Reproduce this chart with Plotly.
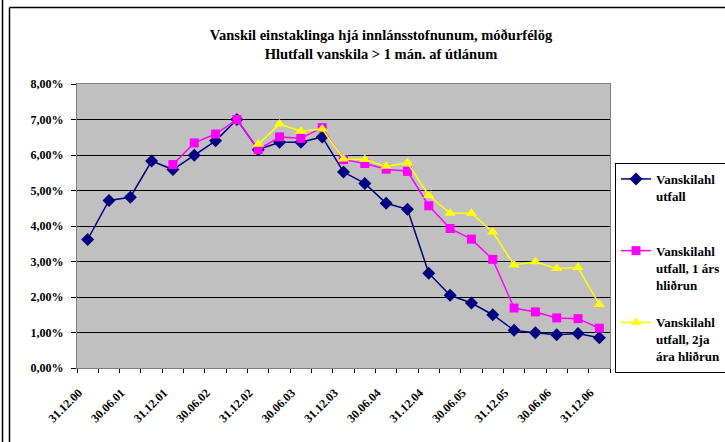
import plotly.graph_objects as go

dates = ["31.12.00", "31.03.01", "30.06.01", "30.09.01", "31.12.01", "31.03.02",
         "30.06.02", "30.09.02", "31.12.02", "31.03.03", "30.06.03", "30.09.03",
         "31.12.03", "31.03.04", "30.06.04", "30.09.04", "31.12.04", "31.03.05",
         "30.06.05", "30.09.05", "31.12.05", "31.03.06", "30.06.06", "30.09.06",
         "31.12.06"]

vanskil = [3.62, 4.72, 4.81, 5.83, 5.59, 5.99, 6.40, 7.00, 6.15, 6.36, 6.36, 6.51,
           5.52, 5.20, 4.64, 4.47, 2.67, 2.05, 1.83, 1.50, 1.06, 0.99, 0.94, 0.97, 0.85]
vanskil_1ar = [None, None, None, None, 5.73, 6.34, 6.59, 7.00, 6.15, 6.51, 6.47, 6.77,
               5.87, 5.76, 5.60, 5.54, 4.57, 3.93, 3.63, 3.06, 1.69, 1.58, 1.41, 1.39, 1.12]
vanskil_2ar = [None, None, None, None, None, None, None, None, 6.30, 6.87, 6.67, 6.73,
               5.89, 5.87, 5.68, 5.78, 4.86, 4.36, 4.36, 3.83, 2.90, 2.99, 2.80, 2.83, 1.79]

names = ["Vanskilahl<br>utfall<br> ", "Vanskilahl<br>utfall, 1 árs<br>hliðrun",
         "Vanskilahl<br>utfall, 2ja<br>ára hliðrun"]

y_ticks = [0, 1, 2, 3, 4, 5, 6, 7, 8]
y_ticktext = ["0,00%", "1,00%", "2,00%", "3,00%", "4,00%", "5,00%", "6,00%", "7,00%", "8,00%"]

xi = list(range(len(dates)))

FONT = "Liberation Serif, Times New Roman, serif"

fig = go.Figure()
fig.add_trace(go.Scatter(x=xi, y=vanskil, name=names[0], legendgroup="a",
                         mode="lines+markers",
                         line=dict(color="#000080", width=1.5),
                         marker=dict(symbol="diamond", size=10, color="#000080")))
fig.add_trace(go.Scatter(x=xi, y=vanskil_1ar, name=names[1], legendgroup="b",
                         mode="lines+markers",
                         line=dict(color="#FF00FF", width=1.5),
                         marker=dict(symbol="square", size=9, color="#FF00FF")))
fig.add_trace(go.Scatter(x=xi, y=vanskil_2ar, name=names[2], legendgroup="c",
                         mode="lines+markers",
                         line=dict(color="#FFFF00", width=1.5),
                         marker=dict(symbol="triangle-up", size=10, color="#FFFF00")))

L, T, R, B = 77, 84, 610, 368
W, H = 725, 442
pw, ph = R - L, B - T

def px(x):
    return (x - L) / pw

def py(y):
    return (B - y) / ph

fig.update_layout(
    width=W, height=H,
    margin=dict(l=L, r=W - R, t=T, b=H - B, pad=0, autoexpand=False),
    paper_bgcolor="white",
    plot_bgcolor="#C0C0C0",
    font=dict(family=FONT, size=12, color="black", weight="bold"),
    title=dict(text="Vanskil einstaklinga hjá innlánsstofnunum, móðurfélög<br>Hlutfall vanskila > 1 mán. af útlánum",
               x=381 / W, xanchor="center", xref="container",
               y=1 - 40 / H, yanchor="top", yref="container",
               font=dict(family=FONT, size=14.5, color="black", weight="bold")),
    showlegend=True,
    legend=dict(x=px(615), xanchor="left", y=py(163), yanchor="top",
                bordercolor="black", borderwidth=1, bgcolor="white",
                font=dict(family=FONT, size=13, color="black", weight="bold"),
                tracegroupgap=18, valign="top", itemwidth=30),
    xaxis=dict(range=[-0.5, len(dates) - 0.5], tickmode="array",
               tickvals=xi[::2], ticktext=dates[::2], tickangle=-45,
               ticks="", showgrid=False, zeroline=False,
               ticklabelstandoff=12, ticklabelshift=-9,
               showline=True, linecolor="#808080", linewidth=1, mirror=True,
               tickfont=dict(family=FONT, size=12, color="black", weight="bold"),
               minor=dict(tickmode="array",
                          tickvals=[i - 0.5 for i in range(len(dates) + 1)],
                          ticks="outside", ticklen=4, tickcolor="black",
                          tickwidth=1, showgrid=False)),
    yaxis=dict(range=[0, 8], tickmode="array", tickvals=y_ticks, ticktext=y_ticktext,
               ticks="outside", ticklen=5, tickcolor="black", ticklabelstandoff=5,
               showgrid=True, gridcolor="black", gridwidth=1, zeroline=False,
               showline=True, linecolor="#808080", linewidth=1, mirror=True,
               tickfont=dict(family=FONT, size=12, color="black", weight="bold")),
    shapes=[
        dict(type="line", xref="paper", yref="paper", x0=px(2.5), x1=px(2.5),
             y0=py(0), y1=py(H), line=dict(color="black", width=1.5)),
        dict(type="line", xref="paper", yref="paper", x0=px(9.5), x1=px(9.5),
             y0=py(7.5), y1=py(H + 5), line=dict(color="black", width=1.5)),
        dict(type="line", xref="paper", yref="paper", x0=px(9.5), x1=px(W + 5),
             y0=py(7.5), y1=py(7.5), line=dict(color="black", width=1.5)),
    ],
)

fig.write_html("out.html", config={"displayModeBar": False},
               post_script="document.body.style.margin='0px';document.body.style.overflow='hidden';")
